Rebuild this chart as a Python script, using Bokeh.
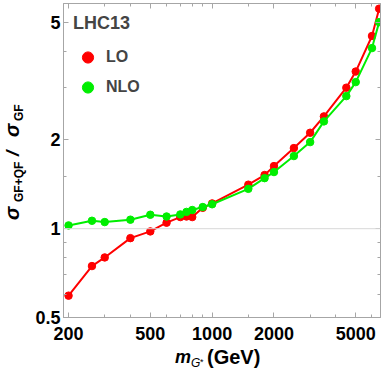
import numpy as np
from bokeh.plotting import figure
from bokeh.layouts import row, column
from bokeh.models import (LogAxis, FixedTicker, Span, Legend, LegendItem,
                          Range1d, CustomJSTickFormatter, Div)
from bokeh.embed import file_html
from bokeh.resources import INLINE

# ---- data ----
mass = [200, 260, 300, 400, 500, 600, 700, 750, 800, 900, 1000,
        1500, 1800, 2000, 2500, 3000, 3500, 4500, 5000, 6000, 6500]
ratio_lo = [0.593, 0.747, 0.799, 0.929, 0.979, 1.048, 1.095, 1.10, 1.095, 1.177, 1.218,
            1.41, 1.52, 1.63, 1.876, 2.115, 2.403, 3.006, 3.41, 4.50, 5.57]
ratio_nlo = [1.026, 1.064, 1.053, 1.073, 1.115, 1.10, 1.118, 1.14, 1.157, 1.184, 1.21,
             1.365, 1.484, 1.556, 1.763, 1.966, 2.311, 2.815, 3.14, 4.095, 5.015]

x_major = [200, 500, 1000, 2000, 5000]
x_major_labels = ["200", "500", "1000", "2000", "5000"]
x_minor = [300, 400, 600, 700, 800, 900, 1500, 3000, 4000, 6000]
y_major = [0.5, 1, 2, 5]
y_major_labels = ["0.5", "1", "2", "5"]
y_minor = [0.6, 0.7, 0.8, 0.9, 1.5, 3, 4]

FONT = "Liberation Sans"
FRAME = "#a6a6a6"
YL_W = 30      # width of the y-label strip
PLOT_H = 348   # height of the figure

p = figure(width=384 - YL_W, height=PLOT_H, x_axis_type="log", y_axis_type="log",
           x_range=Range1d(189, 6600), y_range=Range1d(0.5, 5.8),
           output_backend="svg", toolbar_location=None,
           min_border_left=63 - YL_W, min_border_right=4, min_border_top=3,
           min_border_bottom=PLOT_H - 317)
p.grid.visible = False
p.outline_line_color = FRAME
p.background_fill_color = "white"
p.border_fill_color = "white"

fmt = CustomJSTickFormatter(code="return tick.toString()")
blank = CustomJSTickFormatter(code="return ''")

def style_axis(ax, ticker, labels, show):
    ax.ticker = ticker
    ax.axis_line_color = FRAME
    ax.major_tick_line_color = FRAME
    ax.minor_tick_line_color = FRAME
    ax.major_tick_in = 5
    ax.major_tick_out = 0
    ax.minor_tick_in = 3
    ax.minor_tick_out = 0
    if show:
        ax.formatter = fmt
        ax.major_label_overrides = {float(v): s for v, s in zip(ticker.ticks, labels)}
        ax.major_label_text_font = FONT
        ax.major_label_text_font_style = "bold"
        ax.major_label_text_font_size = "18px"
        ax.major_label_text_color = "black"
    else:
        ax.formatter = blank
        ax.major_label_standoff = 0

style_axis(p.xaxis[0], FixedTicker(ticks=x_major, minor_ticks=x_minor), x_major_labels, True)
p.xaxis[0].major_label_standoff = 9
style_axis(p.yaxis[0], FixedTicker(ticks=y_major, minor_ticks=y_minor), y_major_labels, True)
p.yaxis[0].major_label_standoff = 3

top_ax = LogAxis()
style_axis(top_ax, FixedTicker(ticks=x_major, minor_ticks=x_minor), x_major_labels, False)
p.add_layout(top_ax, "above")
right_ax = LogAxis()
style_axis(right_ax, FixedTicker(ticks=y_major, minor_ticks=y_minor), y_major_labels, False)
p.add_layout(right_ax, "right")

p.add_layout(Span(location=1, dimension="width", line_color="#d8d8d8", line_width=1))

p.line(mass, ratio_lo, line_color="#ff0000", line_width=2)
r_lo = p.scatter(mass, ratio_lo, size=7.5, fill_color="#ff0000", line_color="#ff0000")
p.line(mass, ratio_nlo, line_color="#00ee00", line_width=2)
r_nlo = p.scatter(mass, ratio_nlo, size=7.5, fill_color="#00ee00", line_color="#00ee00")

legend = Legend(items=[LegendItem(label="LO", renderers=[r_lo]),
                       LegendItem(label="NLO", renderers=[r_nlo])],
                location="top_left", title="LHC13",
                title_text_font=FONT, title_text_font_size="18px",
                title_text_font_style="bold", title_standoff=9,
                label_text_font=FONT, label_text_font_size="16px",
                label_text_font_style="bold",
                border_line_color=None, background_fill_alpha=0,
                margin=10, padding=10, glyph_width=29, glyph_height=28,
                label_height=28, label_standoff=4, spacing=2)
p.add_layout(legend)

# ---- axis titles as rich text ----
def piece(text, left, top, size, style="normal", weight="bold"):
    return (f'<span style="position:absolute;left:{left}px;top:{top}px;font-size:{size}px;'
            f'font-style:{style};font-weight:{weight};line-height:1;white-space:nowrap;">'
            f'{text}</span>')

y_html = (f'<div style="position:relative;width:{YL_W}px;height:{PLOT_H}px;'
          f"font-family:'{FONT}';color:black;\">"
          '<div style="position:absolute;left:0px;top:222px;width:130px;height:30px;'
          'transform-origin:0 0;transform:rotate(-90deg);">'
          + piece("σ", 2, 2, 20, "italic")
          + piece("GF+QF", 20, 13, 12)
          + piece("/", 66, 3, 19, "italic")
          + piece("σ", 85, 2, 20, "italic")
          + piece("GF", 101, 13, 12)
          + '</div></div>')

XL_H = 375 - PLOT_H
x_html = (f'<div style="position:relative;width:384px;height:{XL_H}px;'
          f"font-family:'{FONT}';color:black;\">"
          + piece("m", 175, 0, 18, "italic")
          + piece("G", 191, 9, 12, "italic", "normal")
          + piece("*", 200, 10, 9, "normal", "normal")
          + piece("(GeV)", 207, -1, 20)
          + '</div>')

ydiv = Div(text=y_html, width=YL_W, height=PLOT_H, margin=(0, 0, 0, 0))
xdiv = Div(text=x_html, width=384, height=XL_H, margin=(0, 0, 0, 0))

layout = column(row(ydiv, p, spacing=0), xdiv, spacing=0)

open("out.html", "w").write(file_html(layout, INLINE))
